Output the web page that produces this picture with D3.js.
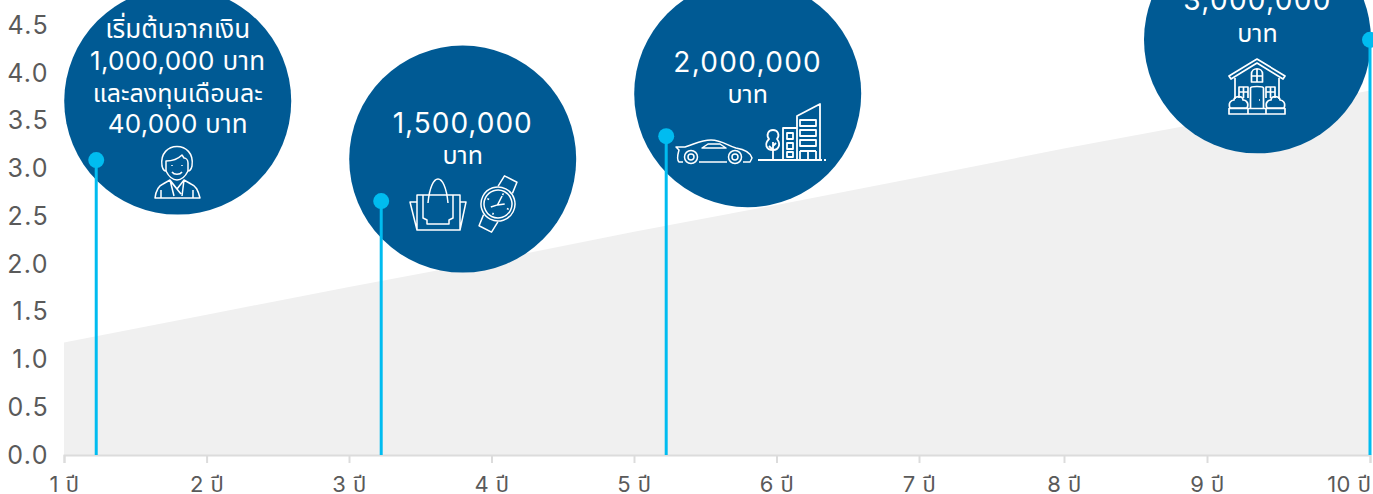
<!DOCTYPE html>
<html lang="th">
<head>
<meta charset="utf-8">
<script src="https://cdn.jsdelivr.net/npm/d3@7/dist/d3.min.js"></script>
<style>
  html, body { margin: 0; padding: 0; background: #fff; overflow: hidden; }
  svg { display: block; }
  text { font-family: Inter, "Noto Sans Thai", "Noto Sans", "Open Sans", sans-serif; }
</style>
</head>
<body>
<svg id="chart" width="1373" height="494"></svg>
<script>
// Savings growth over ten years, in millions of baht
const years = [1, 2, 3, 4, 5, 6, 7, 8, 9, 10];
const yearLabels = ["1 ปี", "2 ปี", "3 ปี", "4 ปี", "5 ปี", "6 ปี", "7 ปี", "8 ปี", "9 ปี", "10 ปี"];
const savings = [1.18, 1.47, 1.76, 2.04, 2.34, 2.62, 2.91, 3.21, 3.49, 3.82];
const yTicks = [0, 0.5, 1, 1.5, 2, 2.5, 3, 3.5, 4, 4.5];

// Goals along the way
const goalYears = [1.226, 3.226, 5.226, 10];
const goalLevels = [3.09, 2.66, 3.34, 4.35];
const goalLines = [
  ["เริ่มต้นจากเงิน", "1,000,000 บาท", "และลงทุนเดือนละ", "40,000 บาท"],
  ["1,500,000", "บาท"],
  ["2,000,000", "บาท"],
  ["3,000,000", "บาท"]
];
const goalIcons = ["person", "shopping", "carCity", "house"];

const BLUE = "#005a94", CYAN = "#00bcf0", FILL = "#f0f0f0", AXIS = "#dcdcdc", INK = "#5a5a5a";

const svg = d3.select("#chart");
const x = d3.scaleLinear()
  .domain(years)
  .range([64, 206.6, 349, 491.5, 634, 776.5, 919, 1064, 1207, 1370]);
const y = d3.scaleLinear().domain([0, 4.5]).range([455, 25.5]);

// Filled savings area
svg.append("path")
  .datum(years.map((yr, i) => [yr, savings[i]]))
  .attr("fill", FILL)
  .attr("d", d3.area().x(d => x(d[0])).y0(y(0)).y1(d => y(d[1])));

// Axes
const xAxis = svg.append("g").attr("transform", `translate(0,${y(0)})`)
  .call(d3.axisBottom(x).tickValues(years).tickSize(8).tickFormat((d, i) => yearLabels[i]));
xAxis.select(".domain").attr("stroke", AXIS).attr("stroke-width", 2);
xAxis.selectAll(".tick line").attr("stroke", AXIS).attr("stroke-width", 2);
xAxis.selectAll(".tick text").attr("fill", INK).attr("font-size", 22).attr("letter-spacing", 0.5)
  .attr("y", 37).attr("dy", 0)
  .attr("text-anchor", d => d === 10 ? "end" : "middle")
  .attr("dx", d => d === 10 ? 1 : 0);

const yAxis = svg.append("g").attr("transform", "translate(49,0)")
  .call(d3.axisLeft(y).tickValues(yTicks).tickSize(0).tickPadding(0).tickFormat(d3.format(".1f")));
yAxis.select(".domain").remove();
yAxis.selectAll(".tick text").attr("fill", INK).attr("font-size", 25).attr("letter-spacing", 1.4);

// White line icons, each drawn around its own origin
const icons = {
  person(g) {
    g.append("path").attr("d", "M-15,-8C-19,-34 19,-34 15,-8C14,-4 12,-3 11,-3C8,3 4,6 0,6C-4,6 -8,3 -11,-3C-12,-3 -14,-4 -15,-8Z");
    g.append("path").attr("d", "M-11,-3V-13C-5,-13 1,-15 5,-19L7,-16C9,-16 11,-14 11,-11V-3");
    g.append("path").attr("d", "M-5,-2C-3,1 3,1 5,-2M-5,-9V-8M5,-9V-8");
    g.append("path").attr("d", "M-22,24C-21,16 -19,12 -14,10L-7,6L0,15L7,6L14,10C19,12 21,16 23,24ZM-7,6L-3,22M7,6L5,22M-5,9L4,20M-16,16V24M16,16V24");
  },
  shopping(g) {
    g.append("path").attr("d", "M-47,-2H-54L-47,26H-4L2,-2H-4M-47,-9H-4V26H-47Z");
    g.append("path").attr("d", "M-41,-9V14L-37,16V20H-15V16L-11,14V-9");
    g.append("path").attr("d", "M-36,-1C-33,-33 -19,-33 -16,-1");
    const w = g.append("g").attr("transform", "translate(34,0) rotate(27)");
    w.append("circle").attr("r", 17);
    w.append("circle").attr("r", 14);
    w.append("path").attr("d", "M-8,-16L-7,-28H7L8,-16M-8,16L-7,28H7L8,16M0,-9V1L6,-3M0,1L-5,6M0,-12V-10M0,10V12M-12,0H-10M10,0H12");
  },
  carCity(g) {
    g.append("path").attr("d", "M-65,4H-69C-72,1 -70,-4 -69,-8L-72,-11L-63,-11C-53,-14 -47,-18 -37,-18C-26,-18 -20,-12 -12,-10C-6,-9 2,-7 4,0L2,4H-5M-21,4H-49");
    g.append("path").attr("d", "M-46,-10L-40,-14H-28L-22,-10Z");
    [-57, -13].forEach(c => {
      g.append("circle").attr("cx", c).attr("cy", -1).attr("r", 6.5);
      g.append("circle").attr("cx", c).attr("cy", -1).attr("r", 3);
    });
    const city = g.append("g").attr("stroke-width", 1.8);
    city.append("path").attr("d", "M10,2H74M76,2H78");
    city.append("path").attr("d", "M25,2V-16M25,-8L21,-12M25,-12L28,-15");
    city.append("path").attr("d", "M25,-28C20,-28 18,-23 21,-19C16,-14 18,-8 25,-8C31,-8 33,-14 29,-19C32,-23 30,-28 25,-28Z");
    city.append("path").attr("d", "M35,2V-30H49M49,2V-42L72,-54V2M39,-25H45V-19H39ZM39,-15H45V-9H39ZM39,-6H45V-1H39ZM52,-38H68V-32H52ZM52,-28H68V-22H52ZM52,-18H68V-12H52ZM52,-7H68M52,-7V2M60,-7V2M68,-7V2");
  },
  house(g) {
    g.attr("stroke-width", 1.7);
    g.append("path").attr("d", "M0,-24L-28,-7L-26,-4L0,-20L26,-4L28,-7Z");
    g.append("path").attr("d", "M-22,-5V16M22,-5V16");
    g.append("path").attr("d", "M-5.5,-1V-9C-5.5,-16 5.5,-16 5.5,-9V-1ZM0,-14V-1M-5.5,-7H5.5");
    g.append("path").attr("d", "M-6.5,25V5C-6.5,3 6.5,3 6.5,5V25M2,17H3");
    g.append("path").attr("d", "M-18,15V4H-9V15M-13.5,4V15M-18,9H-9M18,15V4H9V15M13.5,4V15M18,9H9");
    g.append("path").attr("d", "M-27,25C-29,20 -26,17 -23,17C-23,13 -14,12 -14,17C-10,17 -8,21 -10,25ZM27,25C29,20 26,17 23,17C23,13 14,12 14,17C10,17 8,21 10,25Z");
    g.append("path").attr("d", "M-28,25.5H28V31H-28ZM-9,25.5V31M9,25.5V31");
  }
};

// Per-goal bubble placement relative to its marker
const bubbleOffsets = [[81.5, -59], [81.5, -42], [81.5, -42.5], [-112.5, 0]];
const textBaselines = [[37.5, 69.5, 102, 133], [133, 164], [72, 103], [10, 41.5]];
const fontSizes = [[26, 26, 25, 26], [28, 25], [28, 25], [28, 25]];
const numberSpacing = [[0, 0.3, 0, 0.2], [1, 0], [1.3, 0], [1.3, 0]];
const iconOrigins = [[177, 174], [464, 204], [748, 158], [1257, 83]];

const goals = svg.append("g").selectAll("g").data(goalYears).join("g");
goals.each(function (yr, i) {
  const g = d3.select(this);
  const mx = x(yr), my = y(goalLevels[i]);
  g.append("circle")
    .attr("cx", mx + bubbleOffsets[i][0]).attr("cy", my + bubbleOffsets[i][1])
    .attr("r", 113.5).attr("fill", BLUE);
  goalLines[i].forEach((line, j) => {
    g.append("text")
      .attr("x", mx + bubbleOffsets[i][0]).attr("y", textBaselines[i][j])
      .attr("text-anchor", "middle").attr("fill", "#fff")
      .attr("font-weight", 400).attr("letter-spacing", numberSpacing[i][j])
      .attr("font-size", fontSizes[i][j]).text(line);
  });
  const ic = g.append("g")
    .attr("transform", `translate(${iconOrigins[i][0]},${iconOrigins[i][1]})`)
    .attr("fill", "none").attr("stroke", "#fff").attr("stroke-width", 1.5).attr("stroke-linejoin", "round");
  icons[goalIcons[i]](ic);
});

// Goal stems and markers sit above the bubbles
svg.append("g").selectAll("line").data(goalYears).join("line")
  .attr("x1", d => x(d)).attr("x2", d => x(d))
  .attr("y1", (d, i) => y(goalLevels[i])).attr("y2", y(0))
  .attr("stroke", CYAN).attr("stroke-width", 3);
svg.append("g").selectAll("circle").data(goalYears).join("circle")
  .attr("cx", d => x(d)).attr("cy", (d, i) => y(goalLevels[i]))
  .attr("r", 8).attr("fill", CYAN);
</script>
</body>
</html>
